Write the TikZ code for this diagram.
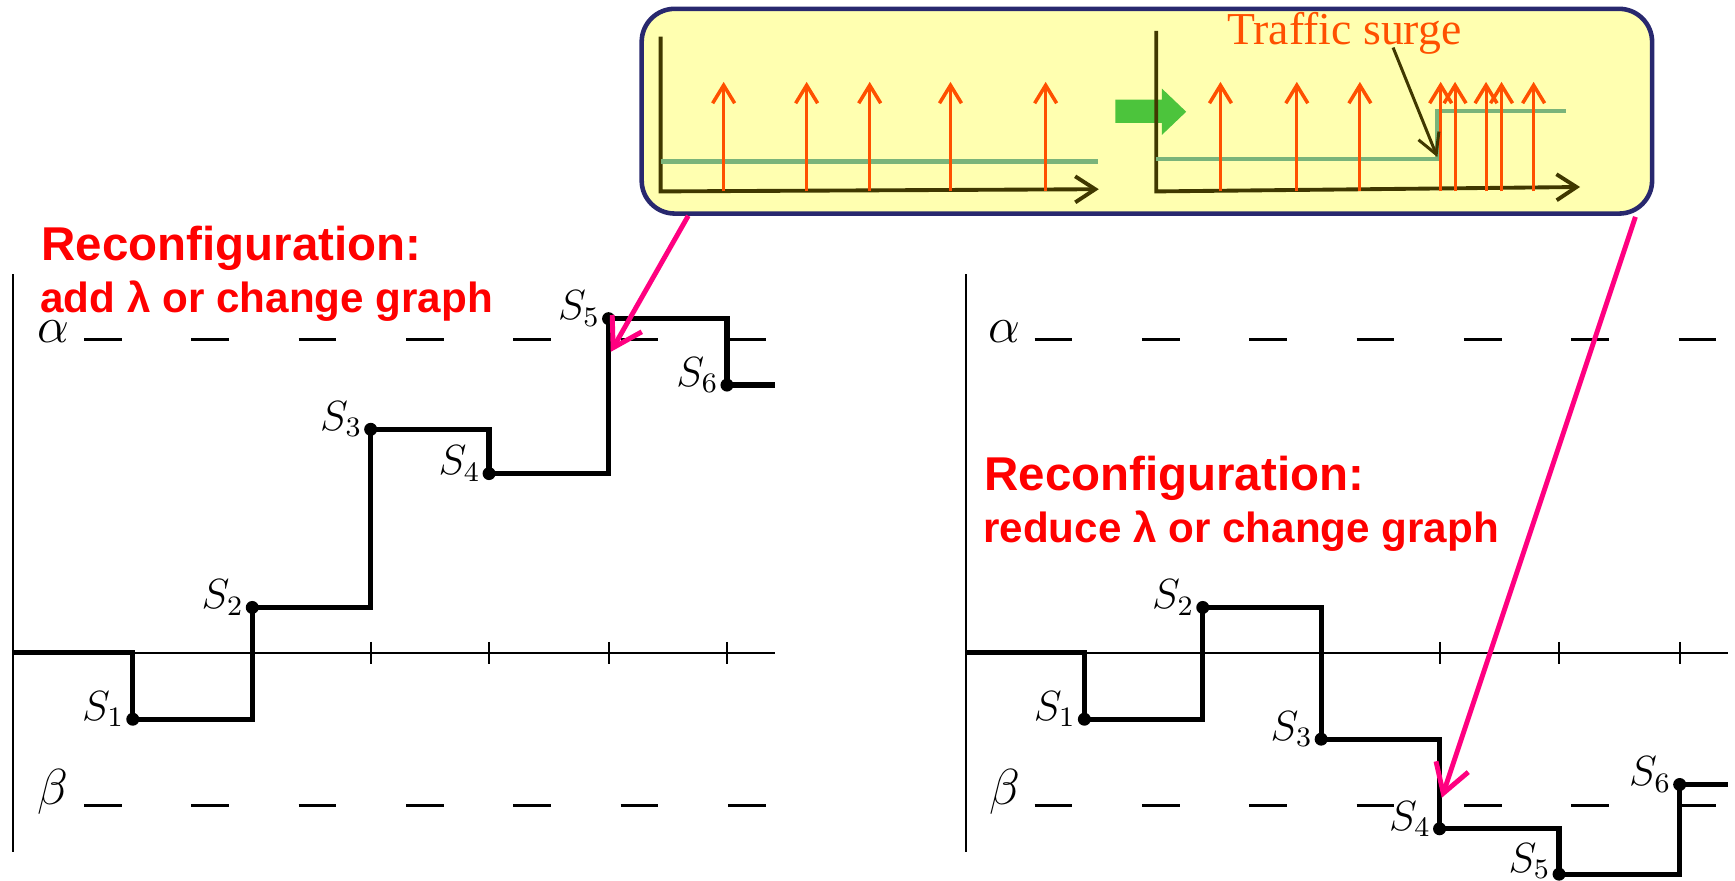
\documentclass[tikz,border=0pt]{standalone}
\usepackage{fontspec}
\newfontfamily\arialf{Liberation Sans}
\newfontfamily\timesf{Liberation Serif}
\usetikzlibrary{arrows.meta}
\definecolor{recred}{RGB}{255,0,0}
\definecolor{hotpink}{RGB}{255,0,128}
\definecolor{insetfill}{RGB}{255,255,176}
\definecolor{insetdraw}{RGB}{40,40,110}
\definecolor{olivedark}{RGB}{64,56,0}
\definecolor{pulseorange}{RGB}{255,80,0}
\definecolor{rategreen}{RGB}{122,180,122}
\definecolor{blockgreen}{RGB}{76,196,60}
\begin{document}
\begin{tikzpicture}[x=0.011065cm,y=-0.011065cm,
  stepline/.style={line width=1.5pt,line join=miter},
  axisline/.style={line width=0.6pt},
  tick/.style={line width=0.6pt},
  dot/.style={circle,fill=black,inner sep=0pt,minimum size=1.3mm},
  thr/.style={line width=0.7pt,dash pattern=on 0.376cm off 0.697cm},
  slab/.style={anchor=east,inner sep=0pt,font=\fontsize{12}{14}\selectfont},
  greek/.style={inner sep=0pt,font=\fontsize{14}{16}\selectfont},
  rectitle/.style={anchor=base west,inner sep=0pt,text=recred,font=\arialf\bfseries\fontsize{13.5}{16}\selectfont},
  recsub/.style={anchor=base west,inner sep=0pt,text=recred,font=\arialf\bfseries\fontsize{12}{14}\selectfont},
  pulse/.style={pulseorange,line width=0.85pt,-{Straight Barb[length=1.8mm,width=2.2mm,line width=1pt]}},
  miniaxis/.style={olivedark,line width=1.1pt,-{Straight Barb[length=2mm,width=2.6mm]}},
  rate/.style={rategreen,line width=1.2pt},
  pointer/.style={olivedark,line width=0.85pt,-{Straight Barb[length=2mm,width=2.2mm]}},
  callout/.style={hotpink,line width=1.4pt,-{Straight Barb[length=2.8mm,width=3.4mm]}},
  inset/.style={draw=insetdraw,fill=insetfill,line width=1.3pt,rounded corners=0.33cm,inner sep=0pt,minimum width=10.102cm,minimum height=2.047cm}
]
\useasboundingbox (0,0) rectangle (1568,796);

% ---------- left plot ----------
\draw[axisline] (12,248) -- (12,770);
\draw[axisline] (12,590) -- (700,590);
\foreach \t in {335,442,550,657} \draw[tick] (\t,580) -- (\t,600);
\draw[thr] (76,307) -- (692,307);
\draw[thr] (76,728) -- (692,728);
\node[greek] (lalpha) at (48,300) {$\alpha$};
\node[greek] (lbeta) at (48,716) {$\beta$};

\coordinate (L0) at (12,590);
\node[dot] (L1) at (120,650) {};
\node[dot] (L2) at (228,549) {};
\node[dot] (L3) at (335,388) {};
\node[dot] (L4) at (442,428) {};
\node[dot] (L5) at (550,288) {};
\node[dot] (L6) at (657,348) {};
\coordinate (Lend) at (700,348);
\draw[stepline] (L0) -| (L1.center) -| (L2.center) -| (L3.center) -| (L4.center) -| (L5.center) -| (L6.center) -- (Lend);
\foreach \i in {1,...,6} \node[slab] (LS\i) at ([shift={(-7,-9)}]L\i.center) {$S_{\i}$};

\node[rectitle] (ltitle) at (37,235) {Reconfiguration:};
\node[recsub] (lsub) at (36,282) {add λ or change graph};

% ---------- right plot ----------
\draw[axisline] (873,248) -- (873,770);
\draw[axisline] (873,590) -- (1562,590);
\foreach \t in {1301,1409,1518} \draw[tick] (\t,580) -- (\t,600);
\draw[thr] (935,307) -- (1552,307);
\draw[thr] (935,728) -- (1552,728);
\node[greek] (ralpha) at (908,300) {$\alpha$};
\node[greek] (rbeta) at (908,716) {$\beta$};

\coordinate (R0) at (873,590);
\node[dot] (R1) at (980,650) {};
\node[dot] (R2) at (1087,549) {};
\node[dot] (R3) at (1194,668) {};
\node[dot] (R4) at (1301,749) {};
\node[dot] (R5) at (1409,790) {};
\node[dot] (R6) at (1518,709) {};
\coordinate (Rend) at (1562,709);
\draw[stepline] (R0) -| (R1.center) -| (R2.center) -| (R3.center) -| (R4.center) -| (R5.center) -| (R6.center) -- (Rend);
\foreach \i in {1,2,3,4,6} \node[slab] (RS\i) at ([shift={(-7,-9)}]R\i.center) {$S_{\i}$};
\node[slab] (RS5) at ([shift={(-7,-12)}]R5.center) {$S_{5}$};

\node[rectitle] (rtitle) at (889,443) {Reconfiguration:};
\node[recsub] (rsub) at (888,490) {reduce λ or change graph};

% ---------- inset ----------
\node[inset] (box) at (1036.5,100.5) {};

% left mini plot
\draw[miniaxis] (597,33) -- (597,173) -- (993,171);
\draw[rate] (597,146) -- (992,146);
\foreach \p in {654,729,786,859,945} \draw[pulse] (\p,173) -- (\p,74);

% block arrow
\fill[blockgreen] (1008,90) -- (1050,90) -- (1050,80) -- (1072,101) -- (1050,122) -- (1050,111) -- (1008,111) -- cycle;

% right mini plot
\draw[miniaxis] (1045,28) -- (1045,173) -- (1428,169);
\draw[rate] (1045,144) -- (1299,144) -- (1299,100) -- (1415,100);
\foreach \p in {1103,1172,1229,1302,1315,1343,1357,1386} \draw[pulse] (\p,173) -- (\p,74);

\node[inner sep=0pt,text=pulseorange,font=\timesf\fontsize{13}{15}\selectfont] (surge) at (1215,30) {Traffic surge};
\coordinate (surgefoot) at (1259,43);
\coordinate (surgetip) at (1299,142);
\draw[pointer] (surgefoot) -- (surgetip);

% ---------- callout arrows ----------
\coordinate (lstart) at (622,195);
\coordinate (ltip) at (552,318);
\coordinate (rstart) at (1478,196);
\coordinate (rtip) at (1303,721);
\draw[callout] (lstart) -- (ltip);
\draw[callout] (rstart) -- (rtip);
\end{tikzpicture}
\end{document}
